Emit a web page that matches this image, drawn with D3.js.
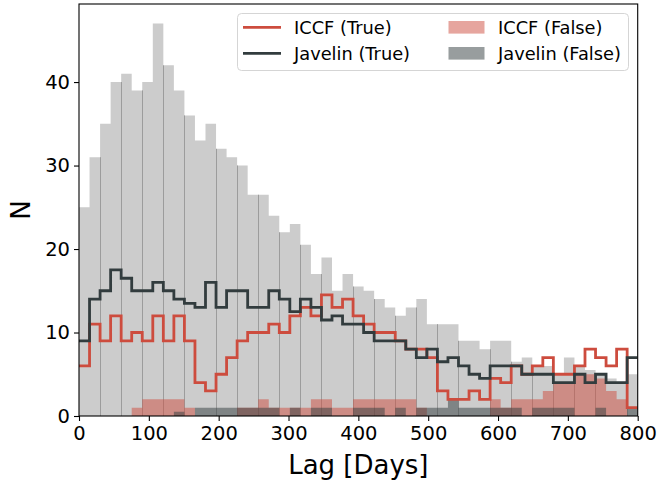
<!DOCTYPE html>
<html>
<head>
<meta charset="utf-8">
<script src="https://cdn.jsdelivr.net/npm/d3@7/dist/d3.min.js"></script>
<style>
  html, body { margin: 0; padding: 0; background: #fff; }
  svg { display: block; font-family: "DejaVu Sans", sans-serif; }
</style>
</head>
<body>
<svg id="chart" width="659" height="482"></svg>
<script>
// ---- data (53 equal bins over 0..800 days) ----
const binCount = 53;
const xMax = 800;
const allLags = [25, 31, 35, 40, 41, 39, 40, 47, 42, 39, 36, 33, 35, 32, 31, 30, 26.5, 26.5, 24, 22,
  23, 20.5, 17, 19, 15, 17, 15.5, 15, 14, 13, 12, 13, 14, 11, 11, 11, 9, 9, 8, 9,
  9, 6.5, 7, 6, 6, 5, 7, 6, 5.5, 5, 4.5, 4, 5];
const iccfTrue = [6, 11, 9, 12, 9, 10, 9, 12, 9, 12, 9, 4, 3, 5, 7, 9, 10, 10, 11, 10,
  12, 13, 12, 14.5, 13, 14, 12, 11, 10, 10, 9, 8, 8, 7, 3, 2, 2, 3, 2, 4.5,
  4, 6, 5, 6, 7, 5, 5, 6, 8, 7, 6, 8, 1];
const javelinTrue = [9, 14, 15, 17.5, 16.5, 15, 15, 16, 15, 14, 13.5, 13, 16, 13, 15, 15, 13, 13, 15, 14,
  12.5, 14, 13, 11.5, 12, 11, 11, 10, 9, 9, 9, 8, 7, 8, 6.5, 7, 6, 5, 4.5, 6,
  6, 6, 5, 5, 5, 4, 4, 5, 4, 5, 4, 4, 7];
const iccfFalse = [0, 0, 0, 0, 0, 1, 2, 2, 2, 2, 1, 0, 0, 0, 0, 1, 1, 2, 1, 1,
  1, 1, 2, 2, 1, 1, 2, 2, 2, 2, 2, 2, 1, 0, 0, 0, 0, 0, 0, 2,
  1, 2, 2, 2, 3, 4, 4, 5, 5, 4.5, 3, 2, 0];
const javelinFalse = [0, 0, 0, 0, 0, 0, 0, 0, 0, 0.5, 0, 1, 1, 1, 1, 1, 1, 1, 1, 0,
  1, 0, 1, 1, 0, 0, 1, 1, 1, 0, 1, 0, 1, 1, 1, 2, 1, 1, 1, 1,
  1, 1, 0, 1, 1, 1, 1, 0, 0, 1, 0, 0, 1];
const xTicks = [0, 100, 200, 300, 400, 500, 600, 700, 800];
const yTicks = [0, 10, 20, 30, 40];
const seriesNames = ["ICCF (True)", "Javelin (True)", "ICCF (False)", "Javelin (False)"];
const xLabel = "Lag [Days]";
const yLabel = "N";

(function () {
// ---- styles ----
const RED = "rgb(205,76,62)";
const DARK = "rgb(50,60,62)";
const GRAY = "#cccccc";

const svg = d3.select("#chart");
const pLeft = 79, pRight = 637.7, pTop = 4, pBottom = 416;
const x = d3.scaleLinear().domain([0, xMax]).range([pLeft, pRight]);
const y = d3.scaleLinear().domain([0, 49.35]).range([pBottom, pTop]);

const edges = d3.range(binCount + 1).map(i => i * xMax / binCount);
const stepPts = vals => vals.map((v, i) => [edges[i], v]).concat([[edges[binCount], vals[binCount - 1]]]);

const area = d3.area().curve(d3.curveStepAfter).x(d => x(d[0])).y0(y(0)).y1(d => y(d[1]));
const line = d3.line().curve(d3.curveStepAfter).x(d => x(d[0])).y(d => y(d[1]));

svg.append("clipPath").attr("id", "clip").append("rect")
  .attr("x", pLeft).attr("y", pTop).attr("width", pRight - pLeft).attr("height", pBottom - pTop);
const plot = svg.append("g").attr("clip-path", "url(#clip)");

// grey histogram of all lags
plot.append("path").datum(stepPts(allLags)).attr("d", area).attr("fill", GRAY);

// faint bar-edge lines (visible at every other edge, as rendered in reference)
edges.forEach((e, i) => {
  if (i === 0 || i === binCount) return;
  if ((i + Math.floor((i + 1) / 13)) % 2 !== 0) return;
  const h = Math.min(allLags[i - 1], allLags[i]);
  const px = Math.floor(x(e)) + 0.5;
  plot.append("line").attr("x1", px).attr("x2", px).attr("y1", y(0)).attr("y2", y(h))
    .attr("stroke", "#9c9c9c").attr("stroke-width", 1);
});

// false histograms
plot.append("path").datum(stepPts(iccfFalse)).attr("d", area).attr("fill", RED).attr("fill-opacity", 0.5);
plot.append("path").datum(stepPts(javelinFalse)).attr("d", area).attr("fill", DARK).attr("fill-opacity", 0.5);

// true step lines
plot.append("path").datum(stepPts(iccfTrue)).attr("d", line).attr("fill", "none")
  .attr("stroke", RED).attr("stroke-width", 2.8).attr("stroke-linejoin", "miter");
plot.append("path").datum(stepPts(javelinTrue)).attr("d", line).attr("fill", "none")
  .attr("stroke", DARK).attr("stroke-width", 2.8).attr("stroke-linejoin", "miter");

// axes
const xAxis = svg.append("g").attr("transform", `translate(0,${pBottom})`)
  .call(d3.axisBottom(x).tickValues(xTicks).tickSize(5).tickPadding(4).tickFormat(d3.format("d")));
const yAxis = svg.append("g").attr("transform", `translate(${pLeft},0)`)
  .call(d3.axisLeft(y).tickValues(yTicks).tickSize(5).tickPadding(4).tickFormat(d3.format("d")));
[xAxis, yAxis].forEach(g => {
  g.select(".domain").remove();
  g.selectAll(".tick line").attr("stroke", "#000").attr("stroke-width", 1.1);
  g.selectAll(".tick text").attr("font-size", 19.5).attr("fill", "#000")
    .attr("font-family", "DejaVu Sans, sans-serif");
});
xAxis.selectAll(".tick text").attr("dy", "0.78em");

// spines
svg.append("rect").attr("x", pLeft).attr("y", pTop).attr("width", pRight - pLeft).attr("height", pBottom - pTop)
  .attr("fill", "none").attr("stroke", "#000").attr("stroke-width", 1.1);

// axis labels
svg.append("text").attr("x", (pLeft + pRight) / 2).attr("y", 474).attr("text-anchor", "middle")
  .attr("font-size", 26).attr("fill", "#000").text(xLabel);
svg.append("text").attr("transform", `translate(30,${(pTop + pBottom) / 2}) rotate(-90)`)
  .attr("text-anchor", "middle").attr("font-size", 26).attr("fill", "#000").text(yLabel);

// legend
const lg = svg.append("g");
lg.append("rect").attr("x", 237.5).attr("y", 13.5).attr("width", 391).attr("height", 57).attr("rx", 4)
  .attr("fill", "#fff").attr("fill-opacity", 0.8).attr("stroke", "#d5d5d5").attr("stroke-width", 1);
const rows = [27.3, 53.3];
const legendItems = [
  { name: seriesNames[0], type: "line", color: RED, col: 0, row: 0 },
  { name: seriesNames[1], type: "line", color: DARK, col: 0, row: 1 },
  { name: seriesNames[2], type: "patch", color: RED, col: 1, row: 0 },
  { name: seriesNames[3], type: "patch", color: DARK, col: 1, row: 1 }
];
const colX = [243, 448.5];
legendItems.forEach(it => {
  const cy = rows[it.row];
  const x0 = colX[it.col];
  if (it.type === "line") {
    lg.append("line").attr("x1", x0).attr("x2", x0 + 38).attr("y1", cy).attr("y2", cy)
      .attr("stroke", it.color).attr("stroke-width", 2.8);
  } else {
    lg.append("rect").attr("x", x0).attr("y", cy - 6.3).attr("width", 36).attr("height", 12.6)
      .attr("fill", it.color).attr("fill-opacity", 0.5);
  }
  lg.append("text").attr("x", x0 + (it.type === "line" ? 51 : 49.5)).attr("y", cy + 6.6)
    .attr("font-size", 17.8).attr("fill", "#000").text(it.name);
});
})();
</script>
</body>
</html>
